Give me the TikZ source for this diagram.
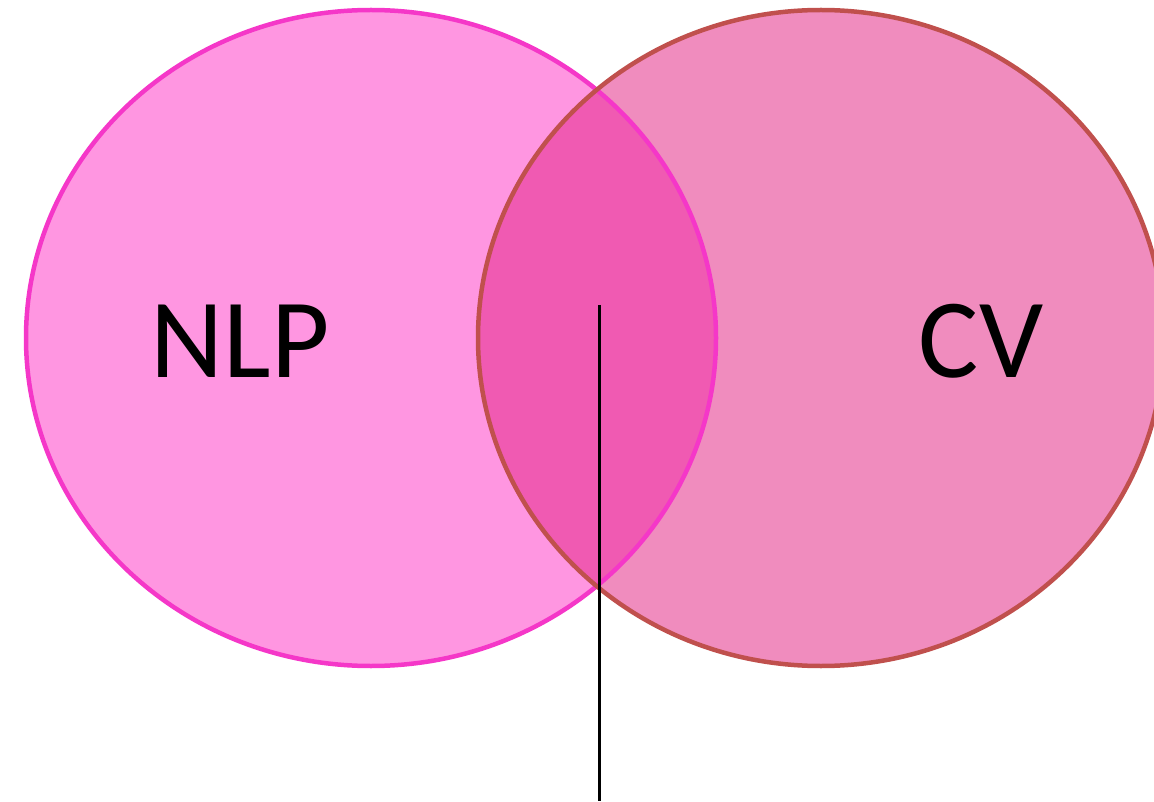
\documentclass[tikz,border=0pt]{standalone}
\usepackage{fontspec}
\setmainfont{Carlito}
\definecolor{nlpfill}{RGB}{255,150,225}
\definecolor{nlpline}{RGB}{245,55,200}
\definecolor{cvfill}{RGB}{240,140,190}
\definecolor{cvline}{RGB}{192,80,77}
\definecolor{bothfill}{RGB}{240,90,178}
\tikzset{
  lbl/.style={font=\fontsize{113}{130}\selectfont, text=black, inner sep=0pt},
  pointer/.style={draw=black, line width=2.4pt},
}
\begin{document}
\begin{tikzpicture}[x=1pt,y=1pt]
\useasboundingbox (0,0) rectangle (1154,-802);
\begin{scope}
\clip (0,0) rectangle (1154,-802);
\fill[nlpfill] (371,-338) ellipse [x radius=345, y radius=328];
\fill[cvfill] (821,-338) ellipse [x radius=343, y radius=328];
\begin{scope}
\clip (371,-338) ellipse [x radius=345, y radius=328];
\fill[bothfill] (821,-338) ellipse [x radius=343, y radius=328];
\end{scope}
\draw[nlpline, line width=4.5pt] (371,-338) ellipse [x radius=345, y radius=328];
\draw[cvline, line width=4.5pt] (821,-338) ellipse [x radius=343, y radius=328];
\end{scope}
\node[lbl] (nlp) at (240,-341) {NLP};
\node[lbl] (cv) at (981,-341) {CV};
\coordinate (top) at (599.5,-305);
\coordinate (bottom) at (599.5,-801);
\draw[pointer] (top) -- (bottom);
\end{tikzpicture}
\end{document}
